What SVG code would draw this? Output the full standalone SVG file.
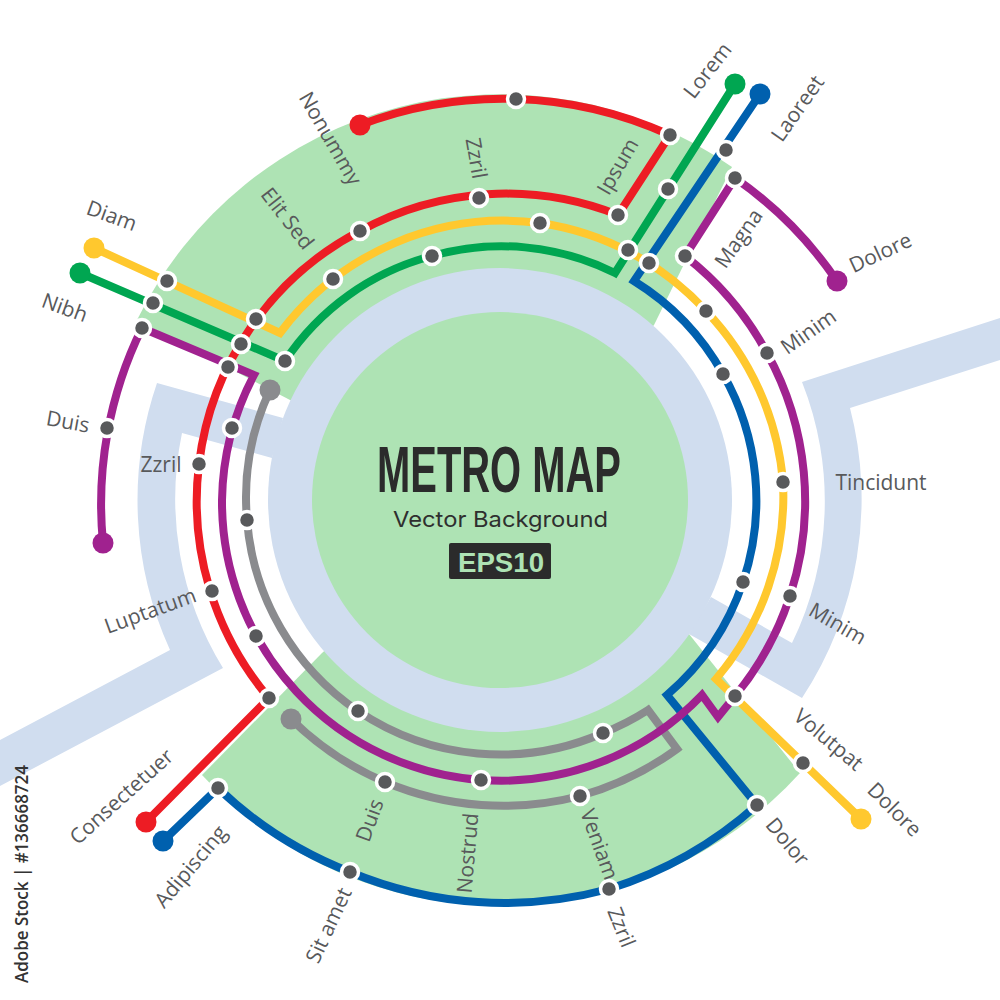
<svg xmlns="http://www.w3.org/2000/svg" width="1000" height="1000" viewBox="0 0 1000 1000">
<style>
.z{fill:#aee3b4}.w{fill:#d0ddef}
.l{fill:none;stroke-width:8;stroke-linejoin:miter}
.st{fill:#58595b;stroke:#fff;stroke-width:3.5}
.t{font-family:"Open Sans","Noto Sans",sans-serif;font-size:21px;fill:#58595b;text-anchor:middle;dominant-baseline:central}
</style>
<rect width="1000" height="1000" fill="#fff"/>
<g id="background">
<path class="z" d="M137 320A405 405 0 0 1 732 167L654 325L500 500L290 400Z"/>
<path class="z" d="M689 634L800 773A405 405 0 0 1 202 775L322 653L500 500Z"/>
<path class="w" d="M850 408L1000 360V318L802 382A323 323 0 0 1 792 643L711 597L689 634L802 698A362 362 0 0 0 850 408Z"/>
<path class="w" d="M157 383L283 418L272 458L182 433A323 323 0 0 0 223 668L0 786V740L170 650A362 362 0 0 1 157 383Z"/>
<circle class="w" cx="500" cy="500" r="232"/>
<circle class="z" cx="500" cy="500" r="188"/>
</g>
<g id="connectors">
<path id="line-gray" class="l" stroke="#8a8b8e" d="M270 390A255 255 0 0 0 247 520A255 255 0 0 0 358 711A255 255 0 0 0 603 733A255 255 0 0 0 648 710L677 749A305 305 0 0 1 580 796A305 305 0 0 1 385 782A305 305 0 0 1 291 719"/>
<path id="line-red" class="l" stroke="#ed1c24" d="M360 125A402 402 0 0 1 670 135L618 215A304 304 0 0 0 360 231A304 304 0 0 0 199 464A304 304 0 0 0 269 698L146 822"/>
<path id="line-blue" class="l" stroke="#0060ae" d="M760 94L634 281A256 256 0 0 1 723 374A256 256 0 0 1 743 582A256 256 0 0 1 667 695L757 805A401 401 0 0 1 609 889A401 401 0 0 1 350 872A401 401 0 0 1 218 788L163 841"/>
<path id="line-yellow" class="l" stroke="#ffc82e" d="M94 248L280 333A280 280 0 0 1 540 223A280 280 0 0 1 706 311A282 282 0 0 1 783 482A282 282 0 0 1 716 679L861 819"/>
<path id="line-green" class="l" stroke="#00a651" d="M80 273L285 361A254 254 0 0 1 432 256A254 254 0 0 1 615 273L735 84"/>
<path id="line-purple" class="l" stroke="#a0228f" d="M103 543A399 399 0 0 1 142 328L254 375A278 278 0 0 0 222 500A279 279 0 0 0 481 780A279 279 0 0 0 702 695L718 717L735 696A306 306 0 0 0 790 596A306 306 0 0 0 767 353A306 306 0 0 0 685 256L735 178A402 402 0 0 1 837 281"/>
</g>
<g id="terminals">
<circle cx="360" cy="125" r="10.5" fill="#ed1c24"/>
<circle cx="146" cy="822" r="10.5" fill="#ed1c24"/>
<circle cx="94" cy="248" r="10.5" fill="#ffc82e"/>
<circle cx="861" cy="819" r="10.5" fill="#ffc82e"/>
<circle cx="80" cy="273" r="10.5" fill="#00a651"/>
<circle cx="735" cy="84" r="10.5" fill="#00a651"/>
<circle cx="760" cy="94" r="10.5" fill="#0060ae"/>
<circle cx="163" cy="841" r="10.5" fill="#0060ae"/>
<circle cx="103" cy="543" r="10.5" fill="#a0228f"/>
<circle cx="837" cy="281" r="10.5" fill="#a0228f"/>
<circle cx="270" cy="390" r="10.5" fill="#8a8b8e"/>
<circle cx="291" cy="719" r="10.5" fill="#8a8b8e"/>
</g>
<g id="stations">
<g id="s1"><circle class="st" cx="516" cy="99" r="8.5"/></g>
<g id="s2"><circle class="st" cx="670" cy="135" r="8.5"/></g>
<g id="s3"><circle class="st" cx="618" cy="215" r="8.5"/></g>
<g id="s4"><circle class="st" cx="479" cy="198" r="8.5"/></g>
<g id="s5"><circle class="st" cx="360" cy="231" r="8.5"/></g>
<g id="s6"><circle class="st" cx="256" cy="319" r="8.5"/></g>
<g id="s7"><circle class="st" cx="167" cy="281" r="8.5"/></g>
<g id="s8"><circle class="st" cx="153" cy="303" r="8.5"/></g>
<g id="s9"><circle class="st" cx="142" cy="328" r="8.5"/></g>
<g id="s10"><circle class="st" cx="241" cy="344" r="8.5"/></g>
<g id="s11"><circle class="st" cx="228" cy="367" r="8.5"/></g>
<g id="s12"><circle class="st" cx="285" cy="361" r="8.5"/></g>
<g id="s13"><circle class="st" cx="333" cy="279" r="8.5"/></g>
<g id="s14"><circle class="st" cx="432" cy="256" r="8.5"/></g>
<g id="s15"><circle class="st" cx="540" cy="223" r="8.5"/></g>
<g id="s16"><circle class="st" cx="628" cy="250" r="8.5"/></g>
<g id="s17"><circle class="st" cx="649" cy="263" r="8.5"/></g>
<g id="s18"><circle class="st" cx="668" cy="189" r="8.5"/></g>
<g id="s19"><circle class="st" cx="726" cy="150" r="8.5"/></g>
<g id="s20"><circle class="st" cx="735" cy="178" r="8.5"/></g>
<g id="s21"><circle class="st" cx="685" cy="256" r="8.5"/></g>
<g id="s22"><circle class="st" cx="706" cy="311" r="8.5"/></g>
<g id="s23"><circle class="st" cx="767" cy="353" r="8.5"/></g>
<g id="s24"><circle class="st" cx="723" cy="374" r="8.5"/></g>
<g id="s25"><circle class="st" cx="783" cy="482" r="8.5"/></g>
<g id="s26"><circle class="st" cx="790" cy="596" r="8.5"/></g>
<g id="s27"><circle class="st" cx="743" cy="582" r="8.5"/></g>
<g id="s28"><circle class="st" cx="735" cy="696" r="8.5"/></g>
<g id="s29"><circle class="st" cx="803" cy="763" r="8.5"/></g>
<g id="s30"><circle class="st" cx="757" cy="805" r="8.5"/></g>
<g id="s31"><circle class="st" cx="609" cy="889" r="8.5"/></g>
<g id="s32"><circle class="st" cx="580" cy="796" r="8.5"/></g>
<g id="s33"><circle class="st" cx="603" cy="733" r="8.5"/></g>
<g id="s34"><circle class="st" cx="481" cy="780" r="8.5"/></g>
<g id="s35"><circle class="st" cx="385" cy="782" r="8.5"/></g>
<g id="s36"><circle class="st" cx="358" cy="711" r="8.5"/></g>
<g id="s37"><circle class="st" cx="350" cy="872" r="8.5"/></g>
<g id="s38"><circle class="st" cx="218" cy="788" r="8.5"/></g>
<g id="s39"><circle class="st" cx="269" cy="698" r="8.5"/></g>
<g id="s40"><circle class="st" cx="256" cy="636" r="8.5"/></g>
<g id="s41"><circle class="st" cx="212" cy="591" r="8.5"/></g>
<g id="s42"><circle class="st" cx="247" cy="520" r="8.5"/></g>
<g id="s43"><circle class="st" cx="199" cy="464" r="8.5"/></g>
<g id="s44"><circle class="st" cx="232" cy="428" r="8.5"/></g>
<g id="s45"><circle class="st" cx="107" cy="428" r="8.5"/></g>
</g>
<g id="labels">
<text class="t" transform="translate(331 138) rotate(60)">Nonummy</text>
<text class="t" transform="translate(288 218) rotate(52)">Elit Sed</text>
<text class="t" transform="translate(477 158) rotate(80)">Zzril</text>
<text class="t" transform="translate(617 166) rotate(-60)">Ipsum</text>
<text class="t" transform="translate(707 70) rotate(-52)">Lorem</text>
<text class="t" transform="translate(797 108) rotate(-55)">Laoreet</text>
<text class="t" transform="translate(738 238) rotate(-55)">Magna</text>
<text class="t" transform="translate(880 252) rotate(-25)">Dolore</text>
<text class="t" transform="translate(808 331) rotate(-35)">Minim</text>
<text class="t" transform="translate(881 482)">Tincidunt</text>
<text class="t" transform="translate(838 623) rotate(30)">Minim</text>
<text class="t" transform="translate(829 739) rotate(40)">Volutpat</text>
<text class="t" transform="translate(895 809) rotate(45)">Dolore</text>
<text class="t" transform="translate(788 841) rotate(50)">Dolor</text>
<text class="t" transform="translate(622 927) rotate(68)">Zzril</text>
<text class="t" transform="translate(600 844) rotate(70)">Veniam</text>
<text class="t" transform="translate(467 853) rotate(-85)">Nostrud</text>
<text class="t" transform="translate(369 820) rotate(-70)">Duis</text>
<text class="t" transform="translate(328 925) rotate(-65)">Sit amet</text>
<text class="t" transform="translate(190 866) rotate(-50)">Adipiscing</text>
<text class="t" transform="translate(121 796) rotate(-42)">Consectetuer</text>
<text class="t" transform="translate(150 610) rotate(-20)">Luptatum</text>
<text class="t" transform="translate(161 464)">Zzril</text>
<text class="t" transform="translate(68 421) rotate(10)">Duis</text>
<text class="t" transform="translate(65 307) rotate(20)">Nibh</text>
<text class="t" transform="translate(112 215) rotate(20)">Diam</text>
</g>
<g id="title">
<text x="377" y="492" font-family="Liberation Sans Narrow,Liberation Sans,sans-serif" font-weight="700" font-size="65" fill="#2b2b2b" textLength="244" lengthAdjust="spacingAndGlyphs">METRO MAP</text>
<text x="393" y="527" font-family="Inter,sans-serif" font-size="22" fill="#2f2f2f" textLength="215" lengthAdjust="spacingAndGlyphs">Vector Background</text>
<rect x="449" y="543" width="102" height="36" rx="2" fill="#2b2b2b"/>
<text x="458" y="572" font-family="Liberation Sans,sans-serif" font-weight="700" font-size="27" fill="#aee3b4" textLength="86" lengthAdjust="spacingAndGlyphs">EPS10</text>
</g>
<text transform="translate(28 983) rotate(-90)" font-family="Open Sans,sans-serif" font-weight="600" font-size="18" fill="#333" textLength="218" lengthAdjust="spacingAndGlyphs">Adobe Stock | #136668724</text>
</svg>
